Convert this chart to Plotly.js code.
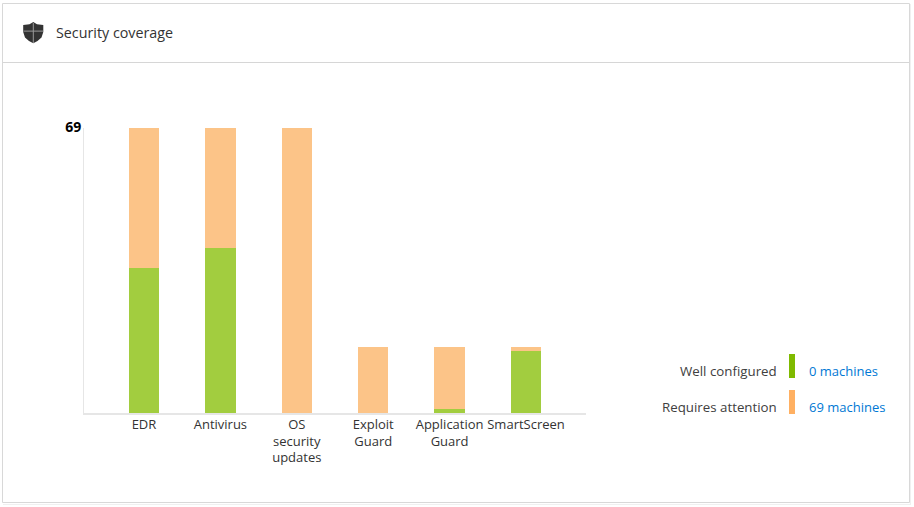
<!DOCTYPE html>
<html>
<head>
<meta charset="utf-8">
<script src="https://cdn.plot.ly/plotly-3.0.1.min.js"></script>
<style>html,body{margin:0;padding:0;background:#fff;overflow:hidden}#c{width:914px;height:507px}</style>
</head>
<body>
<div id="c"></div>
<script>
var categories = ["EDR", "Antivirus", "OS<br>security<br>updates", "Exploit<br>Guard", "Application<br>Guard", "SmartScreen"];
var wellConfigured = [35, 40, 0, 0, 1, 15];
var requiresAttention = [34, 29, 69, 16, 15, 1];
var yTicks = [69];
var titleText = "Security coverage";
var legendLabels = ["Well configured", "Requires attention"];
var legendValues = ["0 machines", "69 machines"];

var FONT = '"Open Sans", "Noto Sans", sans-serif';
var L = 84, R = 586, T = 128, B = 413;
function px(x) { return (x - L) / (R - L); }
function py(y) { return (B - y) / (B - T); }
function rect(x0, y0, x1, y1, fill, line) {
  return {type: "rect", xref: "paper", yref: "paper", x0: px(x0), x1: px(x1), y0: py(y0), y1: py(y1),
    fillcolor: fill, line: line ? {color: line, width: 1} : {width: 0}, layer: "below"};
}
function poly(points, fill) {
  var d = points.map(function (p, i) { return (i ? "L" : "M") + px(p[0]) + "," + py(p[1]); }).join(" ") + " Z";
  return {type: "path", xref: "paper", yref: "paper", path: d, fillcolor: fill, line: {width: 0}, layer: "below"};
}
function note(x, y, text, anchor, color, size) {
  return {xref: "paper", yref: "paper", x: px(x), y: py(y), text: text, showarrow: false,
    xanchor: anchor, yanchor: "middle", font: {family: FONT, size: size, color: color}};
}

var shield = [[33.3,22],[37,24.3],[43.3,25],[43.3,32],[41.5,37.5],[37.5,41],[33.3,43.3],[29,41],[25,37.5],[23.2,32],[23.2,25],[29.5,24.3]];

var shapes = [
  rect(3, 504, 911, 505, "#f0f0f0"),
  rect(910, 4, 911, 505, "#f0f0f0"),
  rect(2.5, 3.5, 909.5, 502.5, "#ffffff", "#d8d8d8"),
  rect(3, 62, 909, 63, "#d6d6d6"),
  poly(shield, "#333333"),
  rect(32.8, 23, 33.8, 43, "#9a9a9a"),
  rect(23.5, 30.6, 43, 31.6, "#9a9a9a"),
  rect(789, 354, 795, 378, "#7fba00"),
  rect(789, 390, 795, 414, "#ffb062")
];

var annotations = [
  note(54, 32, titleText, "left", "#333333", 14.3),
  note(778.5, 370.5, legendLabels[0], "right", "#404040", 13.3),
  note(778.5, 406.5, legendLabels[1], "right", "#404040", 13.3),
  note(806.5, 370.5, legendValues[0], "left", "#0078d4", 13),
  note(806.5, 406.5, legendValues[1], "left", "#0078d4", 13)
];

var data = [
  {type: "bar", name: legendLabels[0], x: categories, y: wellConfigured, marker: {color: "#a2cd3f", line: {width: 0}}, width: 0.4, hoverinfo: "none"},
  {type: "bar", name: legendLabels[1], x: categories, y: requiresAttention, marker: {color: "#fcc488", line: {width: 0}}, width: 0.4, hoverinfo: "none"}
];

var layout = {
  width: 914, height: 507,
  margin: {l: L, r: 914 - R, t: T, b: 507 - B, pad: 0},
  barmode: "stack",
  showlegend: false,
  paper_bgcolor: "#ffffff", plot_bgcolor: "rgba(0,0,0,0)",
  font: {family: FONT, size: 13, color: "#333333"},
  xaxis: {type: "category", range: [-0.785, 5.785], showgrid: false, zeroline: false, showline: true,
    linecolor: "#e6e6e6", linewidth: 2, ticks: "", tickangle: 0, automargin: false, ticklabelstandoff: -2,
    tickfont: {family: FONT, size: 13, color: "#333333"}},
  yaxis: {range: [0, 69], tickvals: yTicks, ticktext: yTicks.map(String), showgrid: false, zeroline: false, showline: true,
    linecolor: "#e6e6e6", linewidth: 1, ticks: "", automargin: false, ticklabelstandoff: -1, ticklabelshift: -1,
    tickfont: {family: FONT, size: 14, color: "#000000", weight: 700}},
  shapes: shapes,
  annotations: annotations
};
Plotly.newPlot("c", data, layout, {displayModeBar: false, staticPlot: true});
</script>
</body>
</html>
